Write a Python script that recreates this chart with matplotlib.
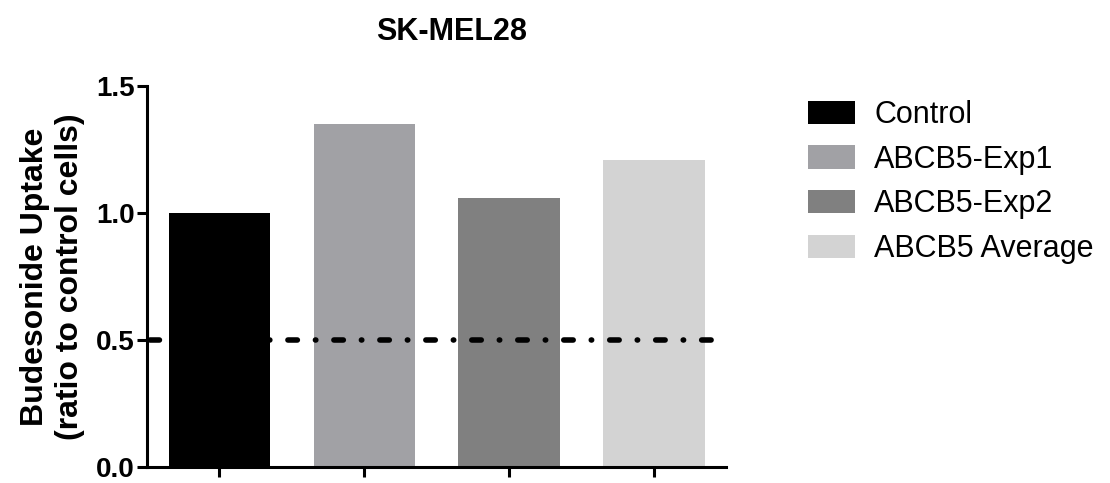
import matplotlib
matplotlib.use("Agg")
import matplotlib.pyplot as plt
from matplotlib.patches import Patch

plt.rcParams['font.family'] = ['Liberation Sans', 'DejaVu Sans']
plt.rcParams['lines.scale_dashes'] = False

title = "SK-MEL28"
groups = ["Control", "ABCB5-Exp1", "ABCB5-Exp2", "ABCB5 Average"]
uptake = [1.0, 1.35, 1.06, 1.21]
colors = ["#000000", "#a1a1a5", "#808080", "#d3d3d3"]
threshold = 0.5
yticks = [0.0, 0.5, 1.0, 1.5]

fig = plt.figure(figsize=(11.1, 4.83), dpi=100)
ax = fig.add_axes([0.1324, 0.033, 0.522, 0.789])

x = range(len(groups))
ax.bar(x, uptake, width=0.7, color=colors, edgecolor="none")
# dash-dot reference line
ax.axhline(threshold, xmin=0.005, xmax=0.985, color="black", lw=4,
           dashes=(6.8, 13, 0.3, 13), dash_capstyle="round")

ax.set_xlim(-0.5, 3.5)
ax.set_ylim(0, 1.5)
ax.set_xticks(list(x))
ax.set_xticklabels([])
ax.set_yticks(yticks)
ax.set_yticklabels([f"{t:.1f}" for t in yticks], fontsize=20, fontweight="bold")
ax.tick_params(axis="both", width=2.2, length=7, direction="out", pad=2)
for s in ["top", "right"]:
    ax.spines[s].set_visible(False)
for s in ["left", "bottom"]:
    ax.spines[s].set_linewidth(2.2)

ax.set_ylabel("Budesonide Uptake\n(ratio to control cells)", fontsize=23,
              fontweight="bold", labelpad=8, linespacing=1.2)
ax.set_title(title, fontsize=22, fontweight="bold", pad=33, x=0.525)

handles = [Patch(facecolor=c, edgecolor="none") for c in colors]
fig.legend(handles, groups, loc="upper left", bbox_to_anchor=(0.728, 0.793),
           frameon=False, fontsize=22, handlelength=1.55, handleheight=0.8,
           handletextpad=0.62, labelspacing=0.48, borderpad=0, borderaxespad=0)

fig.savefig("out.png", dpi=100)
